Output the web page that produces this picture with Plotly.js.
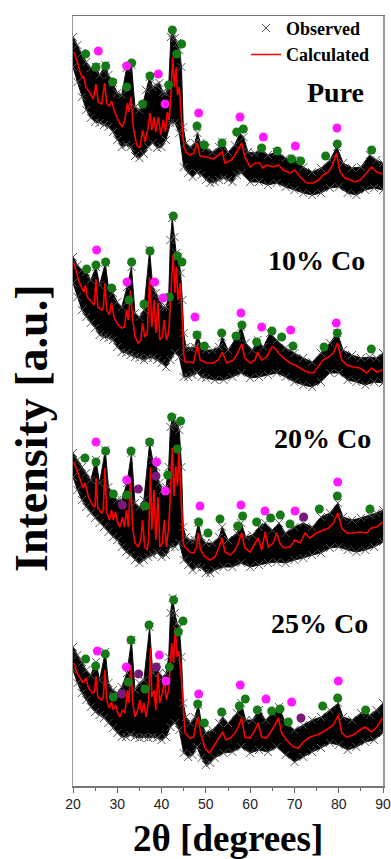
<!DOCTYPE html>
<html><head><meta charset="utf-8">
<script src="https://cdn.plot.ly/plotly-3.0.1.min.js"></script>
<style>html,body{margin:0;padding:0;background:#fff}#chart{width:391px;height:859px}</style>
</head><body><div id="chart"></div>
<script>
// ---- axis ----
const twoThetaTicks = [20,30,40,50,60,70,80,90];
const panelLabels = ['Pure','10% Co','20% Co','25% Co'];

// ---- Pure ----
const pureCalcX = [20.2,21.0,21.6,22.1,22.4,22.9,23.7,24.6,25.2,25.7,26.5,27.15,27.6,28.2,28.7,29.5,30.5,31.2,31.7,32.3,32.6,33.1,33.6,34.4,35.1,35.7,36.3,36.85,37.4,37.8,38.3,38.7,39.3,39.8,40.4,40.85,41.3,41.7,42.05,42.5,42.9,43.3,43.6,44.0,44.5,45.05,45.7,46.4,47.3,48.0,48.7,50.2,51.7,53.0,53.7,54.3,55.8,57.0,58.1,58.8,60.0,61.1,62.2,62.8,63.7,65.2,66.4,67.5,69.0,70.1,71.3,72.8,74.3,75.4,76.5,77.7,78.6,79.5,80.3,81.4,82.5,83.7,84.8,85.9,87.4,88.6,89.9];
const pureCalcY = [734,724,714,708,710,699,694,687,702,684,682,703,683,680,685,673,663,659,666,683,674,689,659,641,638,656,644,656,673,656,669,654,669,651,666,654,674,666,686,729,699,719,691,699,666,639,633,631,633,643,630,629,627,631,634,623,626,634,643,629,619,623,623,618,621,619,621,616,613,616,609,603,603,606,611,614,621,633,614,608,606,604,606,611,619,614,612];
const pureObsHiX = [20,21,22,23,24,25.2,26,27.3,28,29,30,31,32.1,33.2,34,35,35.7,36.5,37.3,38,38.7,39.5,40.3,40.9,41.6,42.1,42.5,43.0,43.5,44.0,44.5,44.9,45.5,46.5,47.5,48.1,48.8,50,51.5,53,53.7,55,56.5,57.7,58.5,59.5,61,62.5,64,66,68,70,72,74,76,78,79.6,81,83,85,87,88.5,90];
const pureObsHiY = [749,741,733,724,718,719,711,721,711,703,693,691,718,721,679,676,681,696,709,699,701,703,694,693,699,749,753,748,743,736,719,659,643,639,643,653,643,638,634,639,644,634,641,653,649,634,633,636,631,634,628,626,619,614,618,626,639,623,618,619,631,626,623];
const pureObsLoX = [20,21,22,23,24,25,26,27,28,29,30,31,32,33,34,35,36,37,38,39,40,41,42,43,44,45,46,47,48,49,50,51,52,53,54,55,56,57,58,60,62,64,66,68,70,72,74,76,78,80,82,84,86,88,90];
const pureObsLoY = [719,704,689,676,668,664,663,661,659,654,646,639,641,639,630,628,632,639,643,638,639,646,663,663,653,619,613,609,613,611,606,603,604,606,608,606,604,611,613,604,604,601,603,599,596,593,591,593,598,599,593,591,596,598,596];
const pureGreenX = [22.86,25.19,27.38,28.96,32.12,33.25,35.73,37.39,41.60,42.43,43.41,44.54,48.00,49.66,53.65,56.96,58.46,62.60,66.14,69.38,71.41,77.05,79.69,87.44];
const pureGreenY = [732,719,720,704,699,723,682,710,701,756,732,742,660,641,643,654,657,638,635,627,625,630,642,636];
const pureMagX = [25.72,32.12,39.27,40.77,48.38,57.71,62.98,70.2,79.61];
const pureMagY = [735,720,712,682,673,669,649,640,658];

// ---- 10% Co ----
const co10CalcX = [20.2,20.8,21.4,22.0,22.5,22.8,23.2,24.2,24.8,25.2,25.6,26.5,26.85,27.2,27.6,28.2,28.7,29.3,30.2,31.0,31.6,32.1,32.5,33.0,33.5,34.0,34.75,35.3,35.7,36.2,36.8,37.3,37.8,38.3,38.7,39.2,39.6,40.2,40.6,41.1,41.6,41.9,42.3,42.6,43.0,43.3,43.7,44.2,44.6,45.0,45.3,46.4,47.2,48.1,48.7,50.2,51.7,52.8,53.7,54.7,56.2,57.2,58.1,58.8,60.0,61.1,61.7,62.6,63.7,64.9,65.6,66.4,67.5,69.0,70.1,71.3,72.8,74.3,75.4,76.5,77.7,78.8,79.7,80.7,81.8,83.3,84.8,86.3,87.4,88.6,89.9];
const co10CalcY = [523,514,504,498,494,501,489,484,481,507,479,476,479,503,476,471,483,468,461,458,459,476,466,495,466,449,443,446,463,449,453,509,459,486,453,483,446,449,466,446,453,476,513,532,493,519,486,503,476,432,424,424,423,441,426,423,423,426,434,423,426,433,442,428,423,426,434,426,429,439,438,433,428,423,421,418,414,413,419,426,429,433,443,426,421,419,418,413,418,414,416];
const co10ObsHiX = [20,21,22,23,24,25.2,26,27.3,28,29,30,31,32.2,33.2,34,35,36,37.3,38,38.7,39.5,40.3,41,41.6,42.0,42.4,42.9,43.3,43.8,44.3,44.7,45.0,45.5,46.5,47.5,48.1,49,50,51.5,53,53.7,55,57,58,59,60.5,61.7,63,64.5,66,68,70,72,74,76,78,79.7,81,83,85,87,88.5,90];
const co10ObsHiY = [529,521,516,514,506,519,501,523,498,493,484,479,499,519,473,469,476,536,499,493,486,479,479,489,546,568,549,533,529,513,486,453,439,438,439,451,439,436,436,439,449,436,449,459,443,436,446,439,453,446,438,433,428,424,433,443,453,436,431,428,429,428,433];
const co10ObsLoX = [20,21,22,23,24,25,26,27,28,29,30,31,32,33,34,35,36,37,38,39,40,41,42,43,44,45,46,47,48,49,50,52,54,56,58,60,62,64,66,68,70,72,74,76,78,80,82,84,86,88,90];
const co10ObsLoY = [503,489,476,469,463,458,451,449,448,446,439,434,433,431,429,428,426,428,428,426,423,419,426,433,429,409,409,411,413,409,408,406,406,409,413,408,409,411,413,409,404,401,399,404,413,413,406,404,401,404,403];
const co10GreenX = [23.09,25.19,27.38,28.73,32.64,33.25,36.03,37.39,41.75,42.66,43.56,44.61,48.00,49.66,53.57,56.81,58.16,61.47,64.93,67.12,69.68,76.68,79.69,87.36];
const co10GreenY = [517,521,524,498,486,524,482,535,489,570,530,524,451,440,453,450,461,444,455,449,440,439,453,437];
const co10MagX = [25.34,32.19,38.44,40.32,47.55,57.93,62.60,69.15,79.46];
const co10MagY = [536,504,504,488,469,473,459,456,463];

// ---- 20% Co ----
const co20CalcX = [20.2,20.8,21.6,22.3,22.7,23.5,24.4,25.0,25.2,25.6,26.5,26.85,27.2,27.6,28.2,28.7,29.1,29.6,30.1,30.6,31.2,31.6,32.1,32.5,33.0,33.5,34.0,34.75,35.3,35.7,36.2,36.8,37.1,37.5,37.8,38.3,38.7,39.2,39.6,40.2,40.6,41.1,41.6,41.9,42.4,42.8,43.2,43.6,43.9,44.3,44.6,44.9,45.3,46.4,47.2,47.9,48.3,48.8,49.8,50.9,52.1,53.0,53.7,54.3,55.5,56.6,57.3,58.1,58.8,60.0,61.1,61.8,62.6,63.4,64.1,65.2,66.0,66.7,67.6,69.0,70.1,71.3,72.4,73.5,75.0,76.5,77.7,78.8,79.8,80.7,81.8,83.3,84.8,86.3,87.4,88.6,89.9];
const co20CalcY = [324,316,306,298,303,289,281,279,308,278,273,276,318,274,266,276,266,274,263,259,269,259,276,259,306,256,243,239,246,266,239,236,249,319,256,296,246,289,239,243,266,239,259,283,338,290,320,300,337,290,270,243,239,234,233,239,253,236,229,226,229,239,248,234,231,236,243,253,238,234,243,248,236,254,239,243,253,243,238,239,246,243,253,248,253,256,258,263,273,258,253,253,254,253,258,259,264];
const co20ObsHiX = [20,21,22,23,24,25.2,26,27.3,28,29,30,31,32.2,33.2,34,35,36,37.3,38,38.8,39.5,40.3,41,41.6,42.0,42.5,43.0,43.5,44.0,44.5,44.9,45.5,46.5,47.5,48.3,49,50,51.5,53,53.7,55,57,58,59,60.5,62,63.4,65,66.5,68,70,72,74,76,78,79.8,81,83,85,87,88.5,90];
const co20ObsHiY = [333,326,319,313,306,326,303,336,299,291,286,286,303,333,283,279,286,343,326,319,303,296,299,319,359,368,364,363,356,319,259,249,246,246,263,249,243,243,249,259,246,253,263,249,251,259,263,256,263,253,259,263,259,269,273,283,269,266,268,271,273,276];
const co20ObsLoX = [20,21,22,23,24,25,26,27,28,29,30,31,32,33,34,35,36,37,38,39,40,41,42,43,44,45,46,47,48,49,50,51,52,54,56,58,60,62,64,66,68,70,72,74,76,78,80,82,84,86,88,90];
const co20ObsLoY = [309,296,286,279,273,268,263,259,254,249,246,239,234,231,226,223,226,229,231,233,229,231,239,239,243,226,221,216,219,218,213,213,216,219,219,223,219,221,223,224,223,226,228,231,233,238,239,236,234,236,239,244];
const co20GreenX = [22.71,25.19,27.38,29.11,32.12,33.10,36.26,37.31,41.38,42.28,43.56,44.31,48.38,50.48,53.19,57.18,58.31,61.47,64.63,66.82,69.00,75.62,79.69,87.06];
const co20GreenY = [328,324,335,292,291,335,280,344,311,369,337,365,264,253,267,260,270,264,268,271,262,277,290,277];
const co20MagX = [25.19,32.12,38.89,40.85,48.68,57.93,63.35,70.13,79.76];
const co20MagY = [344,306,324,295,280,281,275,275,304];
const co20PurX = [31.14,34.75,38.74,72.08];
const co20PurY = [281,297,310,269];

// ---- 25% Co ----
const co25CalcX = [20.2,20.8,21.6,22.3,22.9,23.5,24.4,24.8,25.2,25.6,26.5,26.85,27.2,27.6,28.2,28.7,29.1,29.6,30.1,30.6,31.2,31.7,32.3,32.6,33.1,33.5,34.0,34.6,35.1,35.5,36.0,36.5,37.1,37.5,37.8,38.3,38.7,39.2,39.6,40.2,40.6,41.1,41.6,41.9,42.3,42.7,43.1,43.5,43.9,44.5,44.9,45.3,46.4,47.2,47.9,48.3,48.8,49.8,50.8,51.7,52.8,53.8,54.5,55.5,56.6,57.3,58.1,58.8,60.0,61.1,61.8,62.6,63.7,65.2,66.4,67.1,68.2,69.8,70.9,72.0,73.5,75.0,76.5,77.7,78.8,79.9,80.7,81.8,83.3,84.8,85.9,87.4,88.6,89.9];
const co25CalcY = [123,114,108,103,108,98,93,94,109,89,86,89,116,86,78,84,76,81,73,69,76,73,96,83,121,83,69,76,86,73,83,69,86,138,89,96,76,113,83,93,106,86,96,116,143,123,159,129,135,106,73,53,48,49,64,69,53,38,33,39,46,54,46,48,53,59,68,49,48,56,63,49,48,58,68,53,46,39,38,44,49,51,54,58,61,71,53,49,51,56,59,54,59,68];
const co25ObsHiX = [20,21,22,23,24,25.2,26,27.3,28,29,30,31,32.2,33.2,34,35,36,37.3,38,38.8,39.5,40.3,41,41.6,42.0,42.5,43.0,43.5,44.0,44.5,44.9,45.5,46.5,47.5,48.3,49,50,51.5,53,53.8,55,57,58,59,60.5,62,63.5,65,66.5,68,70,72,74,76,78,79.9,81,83,85,87,88.5,90];
const co25ObsHiY = [139,131,124,116,111,124,106,134,103,96,93,99,113,146,96,103,106,159,113,119,113,109,113,129,173,188,173,163,159,129,83,69,63,69,81,63,53,56,63,69,63,73,83,66,66,76,66,73,79,63,56,61,66,69,76,83,69,66,73,71,76,83];
const co25ObsLoX = [20,21,22,23,24,25,26,27,28,29,30,31,32,33,34,35,36,37,38,39,40,41,42,43,44,45,46,47,48,49,50,51,52,54,56,58,60,62,64,66,68,70,72,74,76,78,80,82,84,86,88,90];
const co25ObsLoY = [116,103,93,86,79,74,71,68,63,58,53,49,49,51,49,48,49,48,49,48,46,49,59,63,56,33,29,31,39,28,21,23,28,33,34,39,33,36,34,39,31,24,29,34,38,43,41,36,39,44,46,53];
const co25GreenX = [22.86,25.12,27.30,29.11,32.49,33.10,36.26,37.16,41.75,42.73,43.78,44.84,48.15,49.66,53.57,57.56,58.91,61.62,64.86,66.74,68.62,76.38,79.76,86.08];
const co25GreenY = [127,120,132,89,104,146,97,161,119,186,154,165,82,63,74,80,87,76,75,77,64,80,88,76];
const co25MagX = [25.49,32.04,39.49,41.00,48.38,57.78,63.58,69.38,79.91];
const co25MagY = [135,119,131,105,92,101,87,84,105];
const co25PurX = [30.99,34.83,38.82,71.48];
const co25PurY = [92,112,119,68];

const panels = [
  {cx:pureCalcX, cy:pureCalcY, hx:pureObsHiX, hy:pureObsHiY, lx:pureObsLoX, ly:pureObsLoY, gx:pureGreenX, gy:pureGreenY, mx:pureMagX, my:pureMagY, px:[], py:[]},
  {cx:co10CalcX, cy:co10CalcY, hx:co10ObsHiX, hy:co10ObsHiY, lx:co10ObsLoX, ly:co10ObsLoY, gx:co10GreenX, gy:co10GreenY, mx:co10MagX, my:co10MagY, px:[], py:[]},
  {cx:co20CalcX, cy:co20CalcY, hx:co20ObsHiX, hy:co20ObsHiY, lx:co20ObsLoX, ly:co20ObsLoY, gx:co20GreenX, gy:co20GreenY, mx:co20MagX, my:co20MagY, px:co20PurX, py:co20PurY},
  {cx:co25CalcX, cy:co25CalcY, hx:co25ObsHiX, hy:co25ObsHiY, lx:co25ObsLoX, ly:co25ObsLoY, gx:co25GreenX, gy:co25GreenY, mx:co25MagX, my:co25MagY, px:co25PurX, py:co25PurY}
];

const GREEN = '#167a16', MAGENTA = '#ff19ff', PURPLE = '#7a1a7a';
const traces = [];
panels.forEach((p, i) => {
  traces.push({x: p.hx.concat(p.lx.slice().reverse()), y: p.hy.concat(p.ly.slice().reverse()),
    type:'scatter', mode:'lines', fill:'toself', fillcolor:'#000', line:{color:'#111', width:1},
    showlegend:false, hoverinfo:'skip'});
  traces.push({x: p.hx.concat(p.lx), y: p.hy.concat(p.ly), type:'scatter', mode:'markers',
    marker:{symbol:'x-thin', size:8, color:'#444', line:{width:1, color:'#555'}},
    name:'Observed', showlegend: i === 0, legendrank: 1});
  traces.push({x:p.cx, y:p.cy, type:'scatter', mode:'lines', line:{color:'#ff0000', width:1.6},
    name:'Calculated', showlegend: i === 0, legendrank: 2});
  traces.push({x:p.gx, y:p.gy, type:'scatter', mode:'markers', marker:{symbol:'circle', size:9, color:GREEN}, showlegend:false});
  traces.push({x:p.mx, y:p.my, type:'scatter', mode:'markers', marker:{symbol:'circle', size:9, color:MAGENTA}, showlegend:false});
  if (p.px.length) traces.push({x:p.px, y:p.py, type:'scatter', mode:'markers', marker:{symbol:'circle', size:9, color:PURPLE}, showlegend:false});
});

const serifBold = {family:'Liberation Serif, Times New Roman, serif', color:'#000', weight:'bold'};
const labelPos = [[366, 92], [367, 260], [373, 438], [370, 623]];
const annotations = panelLabels.map((t, i) => ({
  text: t, xref:'paper', yref:'paper', x:(labelPos[i][0]-73)/310, y:(786-labelPos[i][1])/770,
  xanchor:'right', yanchor:'middle', showarrow:false, font:Object.assign({size:28}, serifBold)
}));
annotations.push({text:'Intensity [a.u.]', xref:'paper', yref:'paper', x:(32-73)/310, y:(786-428)/770,
  xanchor:'center', yanchor:'middle', textangle:-90, showarrow:false, font:Object.assign({size:46}, serifBold)});
annotations.push({text:'2θ [degrees]', xref:'paper', yref:'paper', x:0.5, y:(786-838)/770,
  xanchor:'center', yanchor:'middle', showarrow:false, font:Object.assign({size:37}, serifBold)});

const layout = {
  width:391, height:859,
  margin:{l:73, r:8, t:16, b:73},
  paper_bgcolor:'#fff', plot_bgcolor:'#fff',
  showlegend:true,
  legend:{x:(246-73)/310, y:1.008, xanchor:'left', yanchor:'top', bgcolor:'rgba(0,0,0,0)',
    font:Object.assign({size:18}, serifBold), itemwidth:30, tracegroupgap:0},
  xaxis:{range:[20,90], tickvals:twoThetaTicks, ticks:'outside', ticklen:5, tickcolor:'#666',
    showline:true, linecolor:'#777', linewidth:1.5, mirror:true, showgrid:false, zeroline:false,
    minor:{dtick:5, ticks:'outside', ticklen:3, tickcolor:'#666'},
    tickfont:{family:'Liberation Sans, Arial, sans-serif', size:14, color:'#222'}},
  yaxis:{range:[0,770], showticklabels:false, ticks:'', showline:true, linecolor:'#999', linewidth:1.5,
    mirror:true, showgrid:false, zeroline:false},
  annotations: annotations
};

Plotly.newPlot('chart', traces, layout, {staticPlot:true, displayModeBar:false});
</script></body></html>
